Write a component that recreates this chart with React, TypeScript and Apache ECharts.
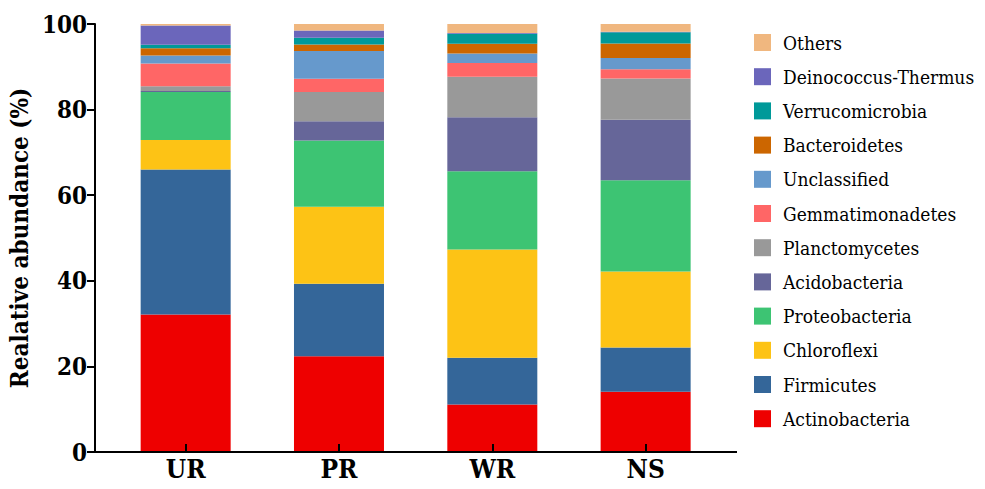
import React, { useEffect, useRef } from "react";
import * as echarts from "echarts";

const categories = ["UR", "PR", "WR", "NS"];

const phyla = [
  "Actinobacteria",
  "Firmicutes",
  "Chloroflexi",
  "Proteobacteria",
  "Acidobacteria",
  "Planctomycetes",
  "Gemmatimonadetes",
  "Unclassified",
  "Bacteroidetes",
  "Verrucomicrobia",
  "Deinococcus-Thermus",
  "Others",
];

const actinobacteria = [32.1, 22.4, 11.1, 14.1];
const firmicutes = [33.9, 16.9, 10.9, 10.3];
const chloroflexi = [6.9, 18.0, 25.3, 17.8];
const proteobacteria = [11.2, 15.5, 18.3, 21.3];
const acidobacteria = [0.25, 4.5, 12.6, 14.1];
const planctomycetes = [1.1, 6.8, 9.5, 9.65];
const gemmatimonadetes = [5.3, 3.1, 3.2, 2.2];
const unclassified = [1.9, 6.5, 2.2, 2.6];
const bacteroidetes = [1.7, 1.5, 2.3, 3.4];
const verrucomicrobia = [0.8, 1.6, 2.3, 2.65];
const deinococcus = [4.5, 1.7, 0.2, 0.1];
const others = [0.35, 1.5, 2.1, 1.8];

const seriesValues = [
  actinobacteria,
  firmicutes,
  chloroflexi,
  proteobacteria,
  acidobacteria,
  planctomycetes,
  gemmatimonadetes,
  unclassified,
  bacteroidetes,
  verrucomicrobia,
  deinococcus,
  others,
];

const colors = [
  "#EE0000",
  "#346699",
  "#FDC315",
  "#3DC473",
  "#666699",
  "#999999",
  "#FF6666",
  "#6699CC",
  "#CC6600",
  "#009999",
  "#6B66BB",
  "#F0B77F",
];

const yTicks = [0, 20, 40, 60, 80, 100];

const FONT = "DejaVu Serif Condensed, DejaVu Serif";

export default function App() {
  const ref = useRef<HTMLDivElement>(null);
  useEffect(() => {
    if (!ref.current) return;
    const chart = echarts.init(ref.current, undefined, { renderer: "svg" });
    const option: any = {
      animation: false,
      backgroundColor: "#ffffff",
      textStyle: { fontFamily: FONT },
      grid: {
        left: 109,
        top: 24,
        width: 613.3,
        height: 428,
        containLabel: false,
        outerBoundsMode: "none",
      },
      legend: {
        orient: "vertical",
        left: 749,
        top: 27,
        itemWidth: 17,
        itemHeight: 17,
        itemGap: 13.2,
        icon: "rect",
        data: [...phyla].reverse(),
        textStyle: {
          fontFamily: FONT,
          fontSize: 19,
          color: "#000",
          lineHeight: 21,
          padding: [0, 0, 0, 7],
        },
      },
      xAxis: {
        type: "category",
        data: categories,
        z: 5,
        axisLine: { show: false },
        axisTick: {
          show: true,
          inside: true,
          length: 8,
          alignWithLabel: true,
          lineStyle: { color: "#000", width: 2 },
        },
        axisLabel: {
          fontFamily: FONT,
          fontSize: 26,
          fontWeight: "bold",
          color: "#000",
          margin: 4,
        },
      },
      yAxis: {
        type: "value",
        min: 0,
        max: 100,
        interval: 20,
        offset: 14,
        name: "Realative abundance (%)",
        nameLocation: "middle",
        nameGap: 50,
        nameTextStyle: {
          fontFamily: FONT,
          fontSize: 24,
          fontWeight: "bold",
          color: "#000",
        },
        splitLine: { show: false },
        axisLine: { show: true, lineStyle: { color: "#000", width: 2 } },
        axisTick: {
          show: true,
          length: 8,
          lineStyle: { color: "#000", width: 2 },
        },
        axisLabel: {
          fontFamily: FONT,
          fontSize: 24,
          fontWeight: "bold",
          color: "#000",
          margin: 8,
          formatter: (v: number) => (yTicks.includes(v) ? String(v) : ""),
        },
      },
      graphic: [
        {
          type: "line",
          z: 10,
          shape: { x1: 94, y1: 452, x2: 737, y2: 452 },
          style: { stroke: "#000", lineWidth: 2 },
        },
      ],
      series: phyla.map((name, i) => ({
        name,
        type: "bar",
        stack: "total",
        barWidth: 90,
        data: seriesValues[i],
        itemStyle: { color: colors[i] },
      })),
    };
    chart.setOption(option);
    return () => chart.dispose();
  }, []);
  return <div ref={ref} style={{ width: 985, height: 489, margin: -8 }} />;
}
